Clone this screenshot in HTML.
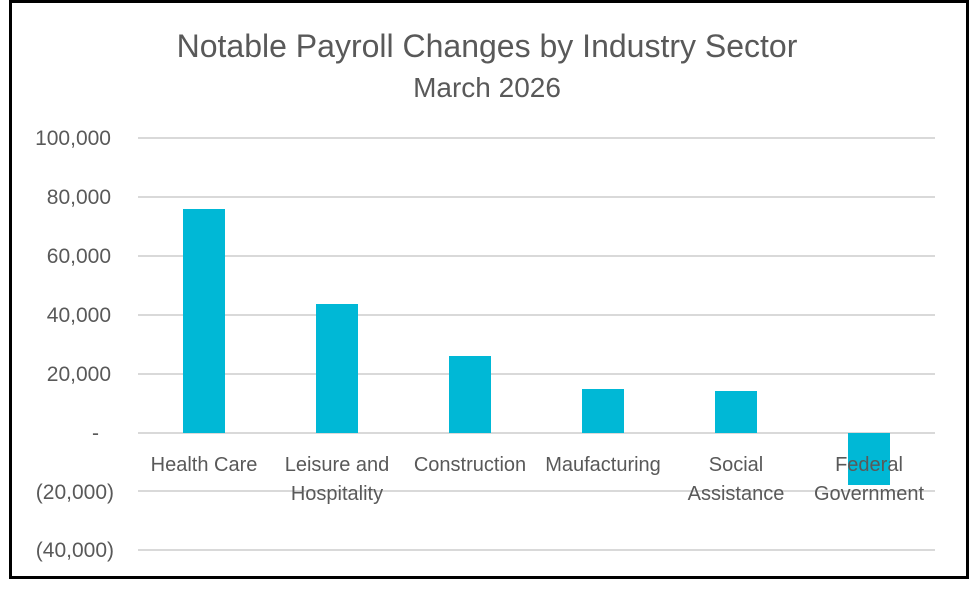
<!DOCTYPE html>
<html><head><meta charset="utf-8"><style>
body{margin:0;background:#fff;}
svg text{font-family:"Liberation Sans",sans-serif;fill:#595959;}
</style></head><body>
<svg width="972" height="588" xmlns="http://www.w3.org/2000/svg">
<rect x="0" y="0" width="972" height="588" fill="#fff"/>
<rect x="10.5" y="1.5" width="957" height="576" fill="none" stroke="#000" stroke-width="3"/>
<text x="487" y="57" font-size="32" text-anchor="middle">Notable Payroll Changes by Industry Sector</text>
<text x="487" y="97" font-size="28" text-anchor="middle">March 2026</text>
<g stroke="#d9d9d9" stroke-width="2">
<line x1="138" x2="935" y1="138" y2="138"/>
<line x1="138" x2="935" y1="197" y2="197"/>
<line x1="138" x2="935" y1="256" y2="256"/>
<line x1="138" x2="935" y1="315" y2="315"/>
<line x1="138" x2="935" y1="374" y2="374"/>
<line x1="138" x2="935" y1="433" y2="433"/>
<line x1="138" x2="935" y1="491" y2="491"/>
<line x1="138" x2="935" y1="550" y2="550"/>
</g>
<g font-size="21" text-anchor="end">
<text x="111" y="145">100,000</text>
<text x="111" y="204">80,000</text>
<text x="111" y="263">60,000</text>
<text x="111" y="322">40,000</text>
<text x="111" y="381">20,000</text>
<text x="99" y="440">-</text>
<text x="114" y="499">(20,000)</text>
<text x="114" y="557">(40,000)</text>
</g>
<g fill="#00b8d6">
<rect x="183" y="209" width="42" height="224"/>
<rect x="316" y="304" width="42" height="129"/>
<rect x="449" y="356" width="42" height="77"/>
<rect x="582" y="389" width="42" height="44"/>
<rect x="715" y="391" width="42" height="42"/>
<rect x="848" y="433" width="42" height="52"/>
</g>
<g font-size="20" text-anchor="middle">
<text x="204" y="471">Health Care</text>
<text x="337" y="471">Leisure and</text>
<text x="337" y="500">Hospitality</text>
<text x="470" y="471">Construction</text>
<text x="603" y="471">Maufacturing</text>
<text x="736" y="471">Social</text>
<text x="736" y="500">Assistance</text>
<text x="869" y="471">Federal</text>
<text x="869" y="500">Government</text>
</g>
</svg>
</body></html>
